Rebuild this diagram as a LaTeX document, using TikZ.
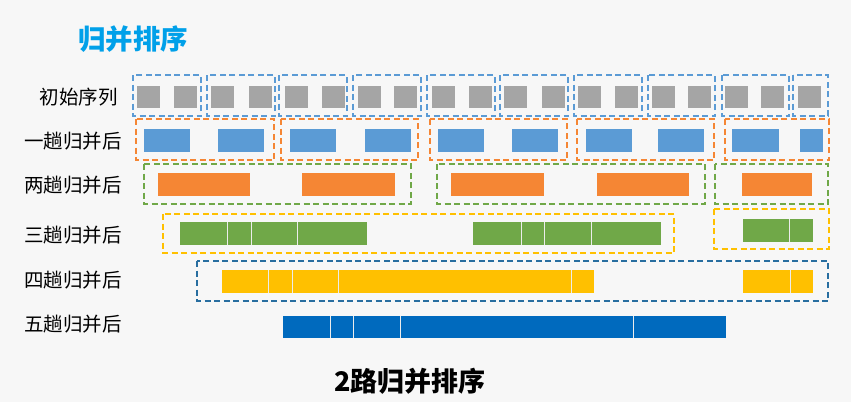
\documentclass[tikz,border=0pt]{standalone}
\usepackage{fontspec}
\setmainfont{Noto Sans CJK SC}
\newfontfamily\cjk{Noto Sans CJK SC}
\definecolor{bgc}{RGB}{247,247,247}
\definecolor{sqgray}{RGB}{165,165,165}
\definecolor{rblue}{RGB}{91,155,213}
\definecolor{rorange}{RGB}{245,134,52}
\definecolor{rgreen}{RGB}{112,168,72}
\definecolor{ryellow}{RGB}{255,192,0}
\definecolor{rdblue}{RGB}{0,106,190}
\definecolor{bxblue}{RGB}{91,155,213}
\definecolor{bxteal}{RGB}{40,110,160}
\definecolor{ttlblue}{RGB}{0,160,233}
\tikzset{
  dbox/.style={line width=1.3pt, dash pattern=on 6pt off 3.5pt},
  lbl/.style={font=\cjk\fontsize{19.5}{20}\selectfont, inner sep=0pt, anchor=east},
  divl/.style={white!85!gray, line width=0.8pt}
}
\begin{document}
\begin{tikzpicture}[x=1pt,y=-1pt]
\fill[bgc] (0,0) rectangle (851,402);
\useasboundingbox (0,0) rectangle (851,402);
% title
\node[font=\cjk\bfseries\fontsize{27.5}{28}\selectfont, text=ttlblue, inner sep=0pt, anchor=west] (title) at (78,39) {归并排序};
% labels
\node[lbl] (l0) at (118,97) {初始序列};
\node[lbl] (l1) at (122,141.5) {一趟归并后};
\node[lbl] (l2) at (122,185) {两趟归并后};
\node[lbl] (l3) at (122,235) {三趟归并后};
\node[lbl] (l4) at (122,280) {四趟归并后};
\node[lbl] (l5) at (122,324) {五趟归并后};
% row 0
\foreach \a/\b in {133/201,207/275,279/347,353/421,427/495,500/568,574/642,648/715,722/789,793/828}
  \draw[dbox, bxblue] (\a,75) rectangle (\b,116);
\foreach \a in {137,174,211,249,285,322,358,394,432,469,504,542,578,615,652,688,725,761,798}
  \fill[sqgray] (\a,86) rectangle ++(23,22);
% row 1
\foreach \a/\b in {136/274,281/418,430/567,577/714,725/829}
  \draw[dbox, rorange] (\a,119) rectangle (\b,160);
\foreach \a/\b in {144/190,218/264,290/336,365/411,438/484,512/558,586/632,658/704,732/779,800/823}
  \fill[rblue] (\a,129) rectangle (\b,152);
% row 2
\foreach \a/\b in {144/411,437/705,715/828}
  \draw[dbox, rgreen] (\a,164) rectangle (\b,204);
\foreach \a/\b in {158/250,302/395,451/544,597/689,742/812}
  \fill[rorange] (\a,173) rectangle (\b,196);
% row 3
\draw[dbox, ryellow] (163,214) rectangle (674,253);
\draw[dbox, ryellow] (714,209) rectangle (829,249);
\fill[rgreen] (180,222) rectangle (367,245);
\foreach \x in {227,251,297} \draw[divl] (\x,222) -- (\x,245);
\fill[rgreen] (473,222) rectangle (661,245);
\foreach \x in {521,544,591} \draw[divl] (\x,222) -- (\x,245);
\fill[rgreen] (743,219) rectangle (813,242);
\draw[divl] (789,219) -- (789,242);
% row 4
\draw[dbox, bxteal] (197,261) rectangle (828,301);
\fill[ryellow] (222,270) rectangle (594,293);
\foreach \x in {268,292,338,571} \draw[divl] (\x,270) -- (\x,293);
\fill[ryellow] (743,270) rectangle (813,293);
\draw[divl] (790,270) -- (790,293);
% row 5
\fill[rdblue] (283,316) rectangle (726,338);
\foreach \x in {330,353,400,633} \draw[divl] (\x,316) -- (\x,338);
% bottom caption
\node[font=\cjk\bfseries\fontsize{27}{28}\selectfont, inner sep=0pt] (cap) at (410,381) {2路归并排序};
\end{tikzpicture}
\end{document}
